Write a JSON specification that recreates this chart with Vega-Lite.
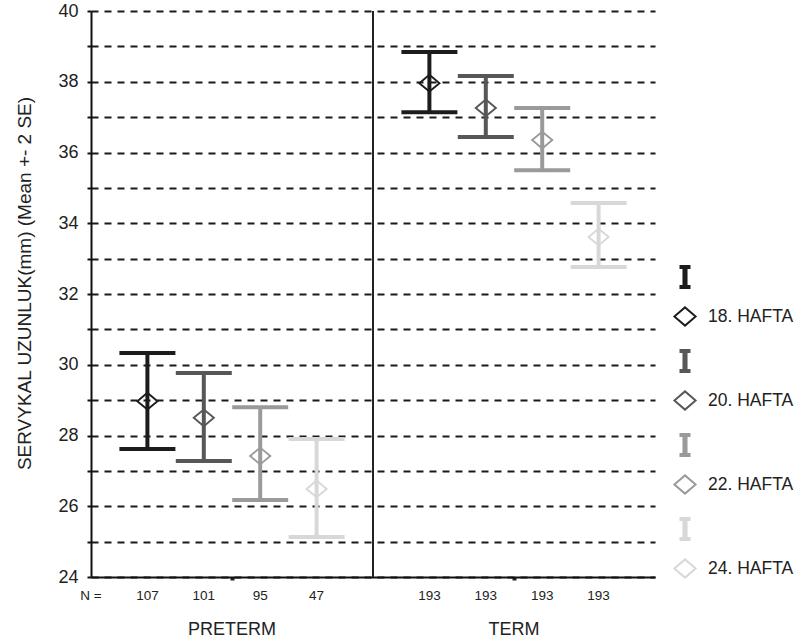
{
  "$schema": "https://vega.github.io/schema/vega-lite/v6.json",
  "width": 564,
  "height": 566,
  "autosize": {"type": "none"},
  "padding": {"left": 91, "top": 11, "right": 145, "bottom": 65},
  "background": "white",
  "config": {"view": {"stroke": null}, "font": "Liberation Sans"},
  "datasets": {
    "bars": [
      {"group": "PRETERM", "week": "18. HAFTA", "slot": 1, "n": 107, "mean": 28.97, "lo": 27.62, "hi": 30.33},
      {"group": "PRETERM", "week": "20. HAFTA", "slot": 2, "n": 101, "mean": 28.5, "lo": 27.28, "hi": 29.77},
      {"group": "PRETERM", "week": "22. HAFTA", "slot": 3, "n": 95, "mean": 27.42, "lo": 26.18, "hi": 28.8},
      {"group": "PRETERM", "week": "24. HAFTA", "slot": 4, "n": 47, "mean": 26.49, "lo": 25.13, "hi": 27.9},
      {"group": "TERM", "week": "18. HAFTA", "slot": 6, "n": 193, "mean": 37.96, "lo": 37.14, "hi": 38.84},
      {"group": "TERM", "week": "20. HAFTA", "slot": 7, "n": 193, "mean": 37.26, "lo": 36.44, "hi": 38.16},
      {"group": "TERM", "week": "22. HAFTA", "slot": 8, "n": 193, "mean": 36.35, "lo": 35.5, "hi": 37.26},
      {"group": "TERM", "week": "24. HAFTA", "slot": 9, "n": 193, "mean": 33.61, "lo": 32.76, "hi": 34.57}
    ],
    "groups": [
      {"group": "PRETERM", "center": 2.5},
      {"group": "TERM", "center": 7.5}
    ],
    "nlabel": [{"label": "N =", "slot": 0}]
  },
  "layer": [
    {
      "data": {"name": "bars"},
      "mark": {"type": "rule", "strokeWidth": 4, "opacity": 1},
      "encoding": {
        "x": {
          "field": "slot", "type": "quantitative",
          "scale": {"domain": [0, 10], "nice": false, "zero": false},
          "axis": {
            "values": [2.5, 7.5], "labels": false, "grid": false, "title": null,
            "tickCount": 10,
            "domainColor": "#111", "domainWidth": 2,
            "tickSize": 3, "tickWidth": 4, "tickColor": "#222"
          }
        },
        "y": {
          "field": "lo", "type": "quantitative",
          "scale": {"domain": [24, 40], "nice": false, "zero": false},
          "axis": {
            "values": [24, 25, 26, 27, 28, 29, 30, 31, 32, 33, 34, 35, 36, 37, 38, 39, 40],
            "tickCount": 40,
            "format": "d",
            "labelExpr": "datum.value % 2 == 0 ? datum.label : ''",
            "labelOverlap": false,
            "grid": true, "gridDash": [7, 6], "gridColor": "#1a1a1a", "gridWidth": 1.9,
            "domainColor": "#111", "domainWidth": 2,
            "tickColor": "#111", "tickSize": 4, "tickWidth": 2,
            "labelFontSize": 18, "labelColor": "#222", "labelPadding": 9,
            "title": "SERVYKAL UZUNLUK(mm) (Mean +- 2 SE)",
            "titleFontSize": 19, "titleFontWeight": "normal", "titleColor": "#222",
            "titleX": -67, "titleY": 272, "titleAngle": -90, "titleAlign": "center", "titleBaseline": "middle"
          }
        },
        "y2": {"field": "hi"},
        "color": {
          "field": "week", "type": "nominal",
          "scale": {"domain": ["18. HAFTA", "20. HAFTA", "22. HAFTA", "24. HAFTA"], "range": ["#1c1c1c", "#575757", "#9a9a9a", "#d8d8d8"]},
          "legend": {
            "orient": "none", "legendX": 583, "legendY": 294.5, "title": null, "padding": 0,
            "symbolType": "M-0.5,-4.68L0.5,-4.68L0.5,-4.32L0.23,-4.32L0.23,-2.86L0.5,-2.86L0.5,-2.5L-0.5,-2.5L-0.5,-2.86L-0.23,-2.86L-0.23,-4.32L-0.5,-4.32ZM-1.1,0L0,-0.95L1.1,0L0,0.95ZM-0.83,0L0,0.71L0.83,0L0,-0.71Z",
            "symbolSize": 484, "symbolStrokeWidth": 0, "symbolOpacity": 1,
            "labelFontSize": 17.5, "labelColor": "#222", "labelOffset": 12,
            "rowPadding": 21,
            "encode": {
              "symbols": {
                "update": {
                  "fill": {"scale": "color", "field": "value"},
                  "stroke": {"value": "transparent"},
                  "strokeWidth": {"value": 0},
                  "opacity": {"value": 1}
                }
              }
            }
          }
        }
      }
    },
    {
      "data": {"name": "bars"},
      "mark": {"type": "tick", "orient": "horizontal", "size": 56, "thickness": 4, "opacity": 1},
      "encoding": {
        "x": {"field": "slot", "type": "quantitative"},
        "y": {"field": "lo", "type": "quantitative"},
        "color": {"field": "week", "type": "nominal"}
      }
    },
    {
      "data": {"name": "bars"},
      "mark": {"type": "tick", "orient": "horizontal", "size": 56, "thickness": 4, "opacity": 1},
      "encoding": {
        "x": {"field": "slot", "type": "quantitative"},
        "y": {"field": "hi", "type": "quantitative"},
        "color": {"field": "week", "type": "nominal"}
      }
    },
    {
      "data": {"name": "bars"},
      "mark": {
        "type": "point", "filled": true, "opacity": 1, "size": 484,
        "shape": "M-1.05,0L0,-0.87L1.05,0L0,0.87ZM-0.78,0L0,0.65L0.78,0L0,-0.65Z"
      },
      "encoding": {
        "x": {"field": "slot", "type": "quantitative"},
        "y": {"field": "mean", "type": "quantitative"},
        "color": {"field": "week", "type": "nominal"}
      }
    },
    {
      "data": {"name": "bars"},
      "mark": {"type": "text", "fontSize": 13.5, "color": "#222", "baseline": "middle"},
      "encoding": {
        "x": {"field": "slot", "type": "quantitative"},
        "y": {"datum": 23.45},
        "text": {"field": "n", "type": "quantitative"}
      }
    },
    {
      "data": {"name": "nlabel"},
      "mark": {"type": "text", "fontSize": 13.5, "color": "#222", "baseline": "middle"},
      "encoding": {
        "x": {"field": "slot", "type": "quantitative"},
        "y": {"datum": 23.45},
        "text": {"field": "label", "type": "nominal"}
      }
    },
    {
      "data": {"name": "groups"},
      "mark": {"type": "text", "fontSize": 18, "color": "#222", "baseline": "middle"},
      "encoding": {
        "x": {"field": "center", "type": "quantitative"},
        "y": {"datum": 22.5},
        "text": {"field": "group", "type": "nominal"}
      }
    },
    {
      "data": {"values": [{}]},
      "mark": {"type": "rule", "color": "#222", "strokeWidth": 2},
      "encoding": {"x": {"datum": 5}}
    }
  ]
}
